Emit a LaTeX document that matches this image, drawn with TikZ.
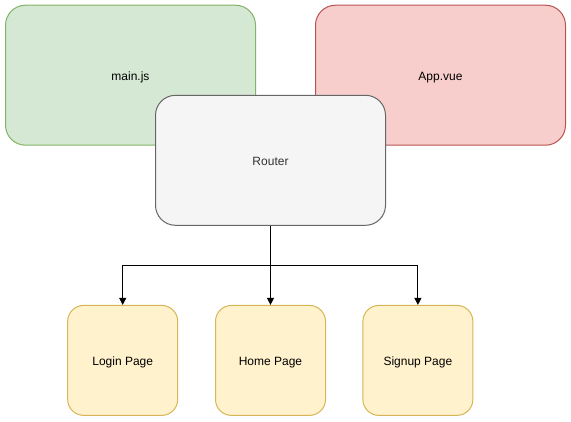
\documentclass[tikz,border=0pt]{standalone}
\usepackage{fontspec}
\setmainfont{Liberation Sans}
\usetikzlibrary{arrows.meta}
\definecolor{gfill}{HTML}{D5E8D4}\definecolor{gline}{HTML}{82B366}
\definecolor{rfill}{HTML}{F8CECC}\definecolor{rline}{HTML}{B85450}
\definecolor{nfill}{HTML}{F5F5F5}\definecolor{nline}{HTML}{666666}
\definecolor{yfill}{HTML}{FFF2CC}\definecolor{yline}{HTML}{D6B656}
\definecolor{txt}{HTML}{333333}
\begin{document}
\begin{tikzpicture}[x=1pt,y=-1pt,
  box/.style={draw,line width=1pt,rounded corners=20pt,inner sep=0pt,
    text height=11pt,text depth=0pt,
    font=\fontsize{12}{14}\selectfont},
  pagebox/.style={box,rounded corners=16pt,minimum width=110pt,minimum height=110pt,
    fill=yfill,draw=yline,text=black},
  conn/.style={line width=1pt,-{Triangle[length=7pt,width=7pt]}}]
\useasboundingbox (0,0) rectangle (571,421);
\node[box,fill=gfill,draw=gline,text=black,minimum width=250pt,minimum height=140pt] (main) at (130.5,75.2) {main.js};
\node[box,fill=rfill,draw=rline,text=black,minimum width=250pt,minimum height=140pt] (app) at (440.5,75.2) {App.vue};
\node[box,fill=nfill,draw=nline,text=txt,minimum width=230pt,minimum height=130pt] (router) at (270.5,160.3) {Router};
\node[pagebox] (login) at (122.7,360.4) {Login Page};
\node[pagebox] (home) at (270.5,360.4) {Home Page};
\node[pagebox] (signup) at (417.9,360.4) {Signup Page};
\coordinate (split) at (270.5,265);
\draw[conn] (router.south) -- (home.north);
\draw[conn] (router.south) -- (split) -| (login.north);
\draw[conn] (router.south) -- (split) -| (signup.north);
\end{tikzpicture}
\end{document}
